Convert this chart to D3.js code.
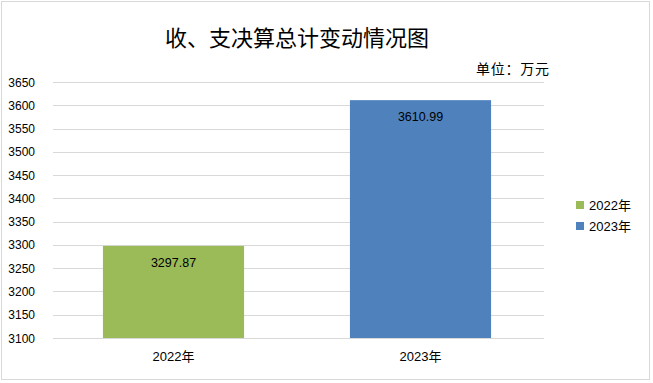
<!DOCTYPE html>
<html><head><meta charset="utf-8">
<script src="https://cdn.jsdelivr.net/npm/d3@7"></script>
<style>body{margin:0;background:#fff}svg{display:block}</style>
</head><body><svg id="c" width="653" height="383"></svg>
<script>
const categories = ["2022年", "2023年"];
const values = [3297.87, 3610.99];
const colors = ["#9BBB59", "#4F81BD"];
const yTicks = [3100,3150,3200,3250,3300,3350,3400,3450,3500,3550,3600,3650];
const title = "收、支决算总计变动情况图";
const unit = "单位：万元";

const svg = d3.select("#c");
const font = "'Liberation Sans', 'Noto Sans CJK SC', sans-serif";
svg.append("rect").attr("x",1.5).attr("y",1.5).attr("width",648).attr("height",378)
  .attr("fill","#fff").attr("stroke","#D9D9D9");

const x = d3.scaleBand().domain(categories).range([50,544]).paddingInner(0.4286).paddingOuter(0.2143);
const y = d3.scaleLinear().domain([3100,3650]).range([338,82]);

svg.append("g").selectAll("line").data(yTicks).join("line")
  .attr("x1",53).attr("x2",544).attr("y1",d=>Math.round(y(d))+0.5).attr("y2",d=>Math.round(y(d))+0.5)
  .attr("stroke","#D9D9D9").attr("stroke-width",1);

svg.append("g").selectAll("text").data(yTicks).join("text")
  .attr("x",35).attr("y",d=>y(d)+4.5).attr("text-anchor","end")
  .attr("font-family",font).attr("font-size",12).attr("fill","#000").text(d=>d);

svg.append("g").selectAll("rect").data(values).join("rect")
  .attr("x",(d,i)=>x(categories[i])).attr("width",x.bandwidth())
  .attr("y",d=>y(d)).attr("height",d=>y(3100)-y(d))
  .attr("fill",(d,i)=>colors[i]);

svg.append("g").selectAll("text").data(values).join("text")
  .attr("x",(d,i)=>x(categories[i])+x.bandwidth()/2).attr("y",d=>y(d)+21)
  .attr("text-anchor","middle").attr("font-family",font).attr("font-size",12.5).attr("fill","#000")
  .text(d=>d.toFixed(2));

svg.append("g").selectAll("text").data(categories).join("text")
  .attr("x",d=>x(d)+x.bandwidth()/2).attr("y",361)
  .attr("text-anchor","middle").attr("font-family",font).attr("font-size",13).attr("fill","#000")
  .text(d=>d);

svg.append("text").attr("x",297).attr("y",46).attr("text-anchor","middle")
  .attr("font-family","'Noto Sans CJK SC', sans-serif").attr("font-size",22).attr("fill","#000").text(title);
svg.append("text").attr("x",476).attr("y",74)
  .attr("font-family","'Noto Sans CJK SC', sans-serif").attr("font-size",14).attr("fill","#000")
  .attr("textLength",73).text(unit);

const lg = svg.append("g").selectAll("g").data(categories).join("g")
  .attr("transform",(d,i)=>`translate(576,${201+i*21})`);
lg.append("rect").attr("width",8).attr("height",8).attr("fill",(d,i)=>colors[i]);
lg.append("text").attr("x",13).attr("y",8.5).attr("font-family",font).attr("font-size",13).attr("fill","#000").text(d=>d);
</script></body></html>
